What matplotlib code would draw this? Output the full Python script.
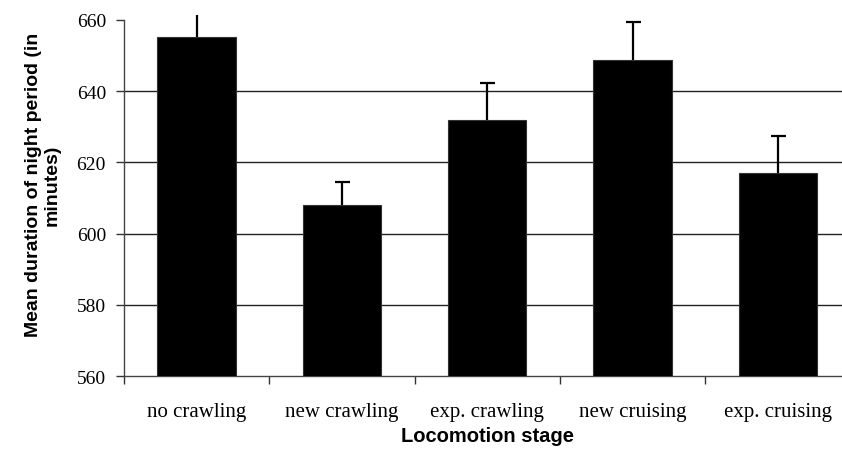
import matplotlib
matplotlib.use("Agg")
import matplotlib.pyplot as plt
from matplotlib.transforms import Bbox, TransformedBbox
import numpy as np

# data
stages = ['no crawling', 'new crawling', 'exp. crawling', 'new cruising', 'exp. cruising']
means = [655.3, 608.0, 632.0, 648.8, 617.1]
errs = [7.0, 6.5, 10.4, 10.6, 10.2]
yticks = [560, 580, 600, 620, 640, 660]

fig = plt.figure(figsize=(8.42, 4.56), dpi=100)
W, H = 842.0, 456.0
cat_w = 145.3
ax = fig.add_axes([124 / W, (H - 377) / H, 5 * cat_w / W, (377 - 21) / H])

x = np.arange(len(stages))
ax.bar(x, means, width=0.54, color='black', edgecolor='#333333', linewidth=0.8, zorder=3)
eb = ax.errorbar(x, means, yerr=[[0] * len(errs), errs], fmt='none', ecolor='black',
                 elinewidth=1.6, capsize=5.4, capthick=1.6, zorder=4)

# only plus-side caps, and let the first bar's line run a bit past the top
caps = eb.lines[1]
caps[0].set_visible(False)
clip = TransformedBbox(Bbox([[0, -0.05], [1, 1.014]]), ax.transAxes)
for art in list(caps) + list(eb.lines[2]):
    art.set_clip_box(clip)

ax.set_ylim(560, 660)
ax.set_xlim(-0.5, len(stages) - 0.5)
ax.set_yticks(yticks)
ax.set_yticklabels([str(v) for v in yticks], fontfamily='Liberation Serif', fontsize=14)

# category labels between boundary ticks
ax.set_xticks(np.arange(len(stages) + 1) - 0.5)
ax.set_xticklabels([])
ax.set_xticks(x, minor=True)
ax.set_xticklabels(stages, minor=True, fontfamily='Liberation Serif', fontsize=15)
ax.tick_params(axis='x', which='minor', length=0, pad=19)
ax.tick_params(axis='x', which='major', length=6, width=1, direction='out', color='#333333')
ax.tick_params(axis='y', length=6, width=1, direction='out', pad=7, color='#333333')

ax.yaxis.grid(True, color='#222222', linewidth=1.0, zorder=0)
ax.set_axisbelow(True)
ax.get_ygridlines()[-1].set_visible(False)
ax.get_ygridlines()[0].set_visible(False)
for s in ['top', 'right']:
    ax.spines[s].set_visible(False)
for s in ['left', 'bottom']:
    ax.spines[s].set_color('#444444')
    ax.spines[s].set_linewidth(1.0)

fig.text(487 / W, (H - 437) / H, 'Locomotion stage', ha='center', va='center',
         fontfamily='Liberation Sans', fontweight='bold', fontsize=14.5)
fig.text(43 / W, (H - 185) / H, 'Mean duration of night period (in\nminutes)', rotation=90,
         ha='center', va='center', multialignment='center', linespacing=1.15,
         fontfamily='Liberation Sans', fontweight='bold', fontsize=14)

fig.savefig('out.png', dpi=100)
